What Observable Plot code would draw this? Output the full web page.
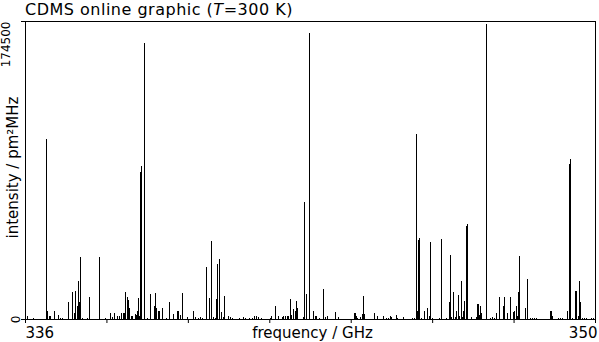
<!DOCTYPE html>
<html><head><meta charset="utf-8">
<script src="https://cdn.jsdelivr.net/npm/d3@7"></script>
<script src="https://cdn.jsdelivr.net/npm/@observablehq/plot@0.6"></script>
<style>
body{margin:0;background:#fff;}
#wrap{position:relative;width:599px;height:342px;font-family:"DejaVu Sans",sans-serif;color:#000;}
#title{position:absolute;left:25px;top:0;font-size:16px;line-height:20px;letter-spacing:0.5px;white-space:nowrap;z-index:2;}
#wrap svg{position:absolute;left:0;top:0;z-index:1;}
</style></head><body>
<div id="wrap"><div id="title">CDMS online graphic (<i>T</i>=300 K)</div></div>
<script>
const freqs = [
336.057,336.189,336.524,336.549,336.581,336.614,336.720,336.820,336.867,336.916,
337.064,337.162,337.211,337.236,337.285,337.310,337.334,337.358,337.408,337.515,
337.580,337.825,337.973,338.095,338.144,338.194,338.267,338.316,338.366,338.415,
338.439,338.464,338.513,338.537,338.562,338.611,338.636,338.709,338.734,338.758,
338.783,338.808,338.832,338.857,338.930,339.004,339.078,339.176,339.201,339.225,
339.274,339.299,339.373,339.471,339.545,339.643,339.741,339.765,339.815,339.864,
339.987,340.134,340.183,340.257,340.306,340.355,340.453,340.527,340.576,340.625,
340.674,340.699,340.723,340.772,340.822,340.871,340.895,340.994,341.043,341.092,
341.264,341.362,341.411,341.510,341.583,341.633,341.682,341.731,341.805,342.025,
342.050,342.148,342.222,342.320,342.345,342.394,342.443,342.468,342.517,342.541,
342.590,342.640,342.664,342.689,342.836,342.861,342.910,342.983,343.082,343.131,
343.156,343.229,343.327,343.377,343.426,343.622,343.696,344.089,344.113,344.138,
344.163,344.236,344.285,344.310,344.334,344.580,344.654,344.801,344.875,344.924,
344.973,344.998,345.120,345.145,345.292,345.514,345.563,345.612,345.636,345.661,
345.686,345.735,345.808,345.882,345.931,345.956,346.005,346.177,346.226,346.349,
346.423,346.446,346.470,346.520,346.569,346.593,346.642,346.667,346.716,346.741,
346.765,346.790,346.839,346.864,346.962,347.085,347.110,347.134,347.159,347.183,
347.208,347.331,347.429,347.478,347.528,347.577,347.651,347.749,347.774,347.847,
347.921,347.995,348.020,348.069,348.093,348.118,348.143,348.290,348.339,348.413,
348.462,348.511,348.560,348.904,348.929,348.953,349.100,349.149,349.198,349.321,
349.370,349.395,349.444,349.518,349.542,349.591,349.616,349.640,349.689,349.738,
349.787,349.910,349.960
];
const intensities = [
1800,600,105400,4700,1800,1800,4700,2600,600,600,
10000,15800,3700,16400,7600,22300,10000,36300,600,600,
12900,36300,600,3500,1200,3500,1800,1800,3500,3300,
3500,15800,12900,11100,6400,1800,1800,2900,2300,4700,
12300,1800,86100,89600,161600,600,14600,7600,15200,6400,
4700,4700,6400,600,10000,2900,4700,4700,2300,15200,
1200,4700,1200,600,1200,600,30500,12300,45700,1200,
600,11700,32200,35100,4100,1200,13500,1800,1200,600,
600,1200,600,600,600,1500,1800,1200,600,600,
1800,7600,1800,1200,1800,1800,1800,1800,11700,2300,
5900,4700,10500,6400,1200,68500,14600,167500,4700,1800,
1800,600,17600,1200,1800,4100,1200,3500,3500,1800,
600,1200,2900,13500,2900,3500,1800,1800,600,600,
1800,1200,2300,600,1200,600,600,108300,4700,46300,
47400,600,4700,6400,1800,45100,600,600,46800,600,
10000,37500,1200,15800,1200,4700,14100,1800,22300,1200,
4700,10500,54500,55600,1200,1200,8800,8800,2300,7600,
3500,172700,600,1200,600,3500,12900,7600,12900,3500,
12900,4100,4700,7600,1800,15800,36900,6400,23400,600,
600,600,600,4700,4700,1800,600,600,600,4700,
90800,93700,600,16400,16400,1800,22300,10000,600,600,
600,600,600
];
const xTicks = [336, 338, 340, 342, 344, 346, 348, 350];
const xTickLabels = [336, 350];
const yTicks = [0, 174500];
const xLabel = "frequency / GHz";
const yLabel = "intensity / pm²MHz";

const lines = freqs.map((f, i) => ({f, v: intensities[i]}));

const chart = Plot.plot({
  width: 599, height: 342,
  marginLeft: 25, marginRight: 4, marginTop: 21, marginBottom: 23,
  style: {fontFamily: "DejaVu Sans", background: "transparent", color: "black", overflow: "visible"},
  x: {domain: [336, 350]},
  y: {domain: [0, 174500]},
  marks: [
    Plot.ruleX(lines, {x: "f", y1: 0, y2: "v", stroke: "black", strokeWidth: 1, shapeRendering: "crispEdges"}),
    Plot.axisX({ticks: xTicks, tickSize: 4, tickFormat: () => "", label: null}),
    Plot.axisY({ticks: yTicks, tickSize: 4, tickFormat: () => "", label: null}),
    Plot.text([xTickLabels[0]], {x: d => d, frameAnchor: "bottom", dy: 18, lineAnchor: "bottom", textAnchor: "start", fontSize: 15}),
    Plot.text([xTickLabels[1]], {x: d => d, frameAnchor: "bottom", dy: 18, dx: 2, lineAnchor: "bottom", textAnchor: "end", fontSize: 15}),
    Plot.text([yTicks[0]], {y: d => d, text: d => String(d), frameAnchor: "left", dx: -6, rotate: -90, textAnchor: "middle", lineAnchor: "bottom", fontSize: 12}),
    Plot.text([yTicks[1]], {y: d => d, text: d => String(d), frameAnchor: "left", dx: -16, rotate: -90, textAnchor: "end", lineAnchor: "bottom", fontSize: 12}),
    Plot.text([yLabel], {text: d => d, frameAnchor: "left", dx: -8, dy: -3, rotate: -90, textAnchor: "middle", lineAnchor: "bottom", fontSize: 15}),
    Plot.text([xLabel], {text: d => d, frameAnchor: "bottom", dy: 18, dx: 2, lineAnchor: "bottom", fontSize: 15}),
    Plot.frame({stroke: "black", shapeRendering: "crispEdges"})
  ]
});
document.getElementById("wrap").appendChild(chart);
</script>
</body></html>
